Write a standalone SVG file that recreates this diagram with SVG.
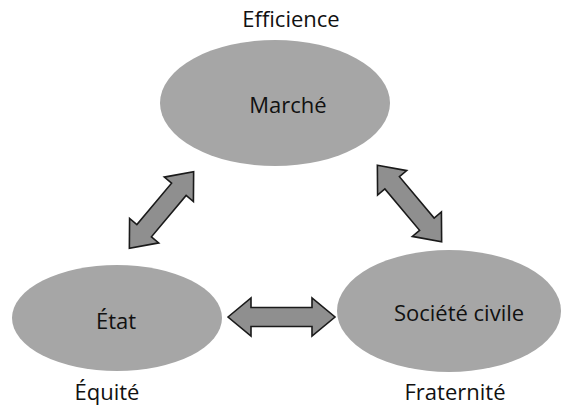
<svg xmlns="http://www.w3.org/2000/svg" width="562" height="407" viewBox="0 0 562 407">
<style>
.node{fill:#a6a6a6;stroke:none}
.arr{fill:#8f8f8f;stroke:#1a1a1a;stroke-width:1.6;stroke-linejoin:miter}
text{font-family:"Open Sans","Noto Sans",sans-serif;font-size:22px;fill:#111;text-anchor:middle}
</style>
<rect width="562" height="407" fill="#fff"/>
<g id="connectors">
<path class="arr" transform="translate(161.5,210) rotate(-50)" d="M-50 0L-27 -19L-27 -9.5L27 -9.5L27 -19L50 0L27 19L27 9.5L-27 9.5L-27 19Z"/>
<path class="arr" transform="translate(409.5,203.5) rotate(50)" d="M-50 0L-27 -19L-27 -9.5L27 -9.5L27 -19L50 0L27 19L27 9.5L-27 9.5L-27 19Z"/>
<path class="arr" transform="translate(281.5,317)" d="M-53.5 0L-30.5 -19L-30.5 -9.5L30.5 -9.5L30.5 -19L53.5 0L30.5 19L30.5 9.5L-30.5 9.5L-30.5 19Z"/>
</g>
<g id="marche">
<ellipse class="node" cx="275" cy="103" rx="115" ry="63"/>
<text x="288" y="113">Marché</text>
</g>
<g id="etat">
<ellipse class="node" cx="117" cy="318" rx="105" ry="53"/>
<text x="116" y="329">État</text>
</g>
<g id="societe">
<ellipse class="node" cx="449" cy="311" rx="112" ry="61"/>
<text x="459" y="321">Société civile</text>
</g>
<text x="291" y="27">Efficience</text>
<text x="107" y="400">Équité</text>
<text x="455" y="400">Fraternité</text>
</svg>
